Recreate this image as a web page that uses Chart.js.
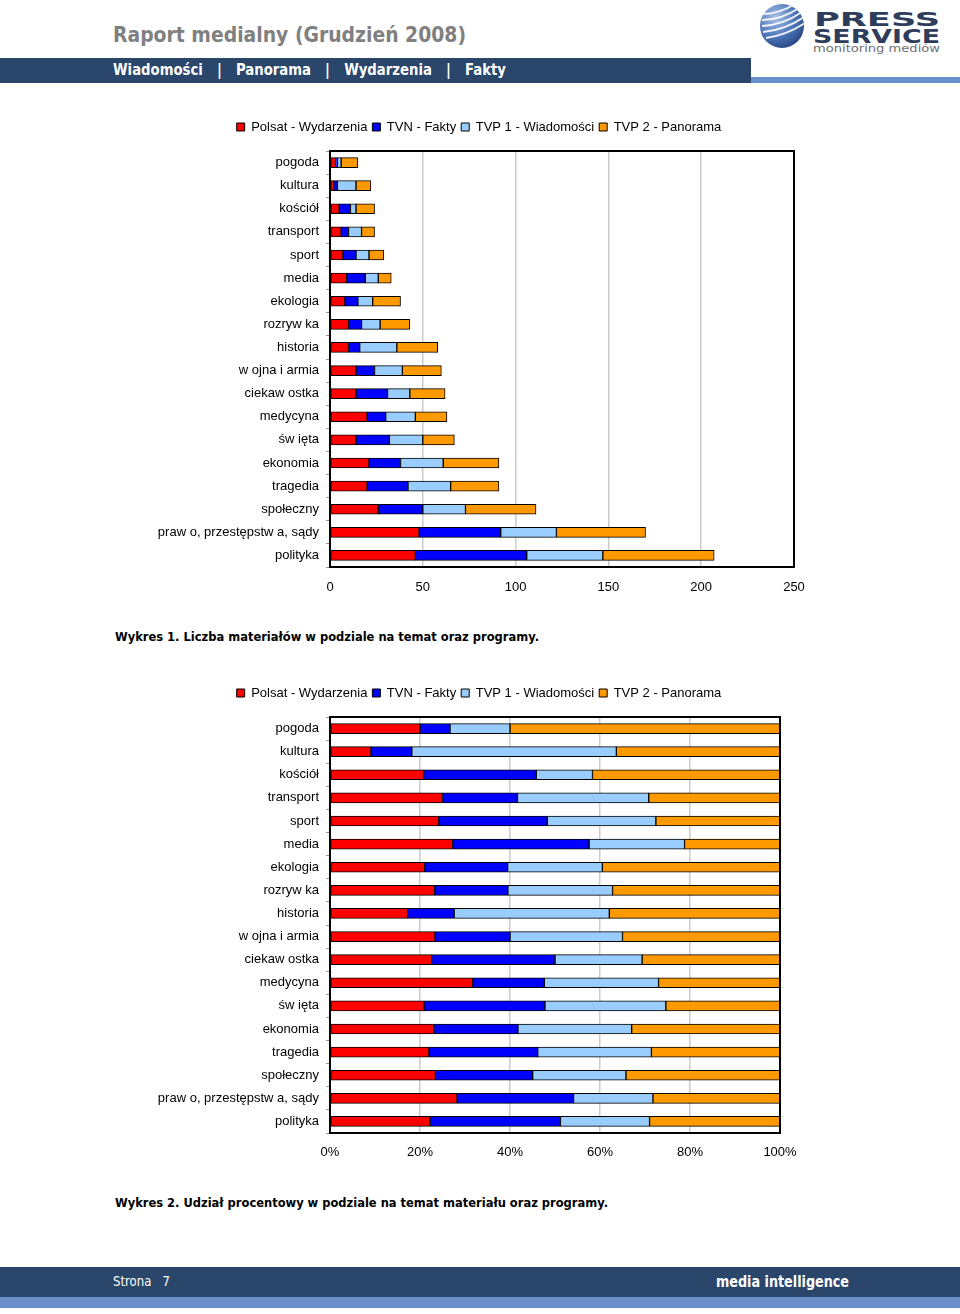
<!DOCTYPE html>
<html><head><meta charset="utf-8">
<script src="https://cdn.jsdelivr.net/npm/chart.js@4.4.0/dist/chart.umd.min.js"></script>
<style>
body{margin:0;width:960px;height:1314px;position:relative;background:#fff;overflow:hidden;font-family:"DejaVu Sans",sans-serif}
.t{position:absolute;white-space:nowrap;transform-origin:0 50%}
.band{position:absolute}
canvas{position:absolute}
</style></head><body>
<div class="band" style="left:0;top:58px;width:751px;height:25px;background:#2a466b"></div>
<div class="band" style="left:751px;top:77px;width:209px;height:6px;background:#6b90c9"></div>
<div class="t fit" data-w="353" style="left:113px;top:25px;font-size:21px;line-height:21px;font-weight:bold;color:#808080;font-stretch:condensed">Raport medialny (Grudzień 2008)</div>
<div class="t fit" data-w="393" style="left:113px;top:61.5px;font-size:16px;line-height:16px;font-weight:bold;color:#fff;word-spacing:3px">Wiadomości &nbsp;| &nbsp;Panorama &nbsp;| &nbsp;Wydarzenia &nbsp;| &nbsp;Fakty</div>

<svg style="position:absolute;left:755px;top:0" width="60" height="56" viewBox="0 0 60 56">
<defs>
<radialGradient id="g" cx="0.35" cy="0.3" r="0.8">
<stop offset="0" stop-color="#a9c0e6"/><stop offset="0.55" stop-color="#4f77bb"/><stop offset="1" stop-color="#233f78"/>
</radialGradient>
<clipPath id="c"><circle cx="27" cy="26" r="22"/></clipPath>
</defs>
<circle cx="27" cy="26" r="22" fill="url(#g)"/>
<g clip-path="url(#c)" stroke="#fff" stroke-width="2" fill="none" opacity="0.9">
<path d="M8 14 Q24 14 40 4"/><path d="M7 20 Q26 20 44 8"/><path d="M7 26 Q28 25 47 12"/><path d="M8 32 Q30 30 49 17"/><path d="M11 38 Q32 35 50 23"/>
</g>
</svg>
<div class="t fit" data-w="126" style="left:814px;top:9px;font-size:20px;line-height:20px;font-weight:bold;color:#2f3d5c">PRESS</div>
<div class="t fit" data-w="127" style="left:813px;top:26px;font-size:20px;line-height:20px;font-weight:bold;color:#2f3d5c">SERVICE</div>
<div class="t fit" data-w="127" style="left:813px;top:43.5px;font-size:10px;line-height:10px;color:#707070">monitoring mediów</div>

<canvas id="c1" width="740" height="497" style="left:100px;top:100px"></canvas>
<div class="t fit" data-w="424" style="left:115px;top:630px;font-size:13px;line-height:13px;font-weight:bold;color:#000">Wykres 1. Liczba materiałów w podziale na temat oraz programy.</div>
<canvas id="c2" width="740" height="497" style="left:100px;top:666px"></canvas>
<div class="t fit" data-w="493" style="left:115px;top:1196px;font-size:13px;line-height:13px;font-weight:bold;color:#000">Wykres 2. Udział procentowy w podziale na temat materiału oraz programy.</div>

<div class="band" style="left:0;top:1267px;width:960px;height:30px;background:#2a466b"></div>
<div class="band" style="left:0;top:1297px;width:960px;height:11px;background:#6b90c9"></div>
<div class="t fit" data-w="57" style="left:113px;top:1274px;font-size:14px;line-height:14px;color:#fff">Strona &nbsp; 7</div>
<div class="t fit" data-w="133" style="left:716px;top:1273.5px;font-size:16px;line-height:16px;font-weight:bold;color:#fff">media intelligence</div>

<script>
const categories = ['pogoda','kultura','kościół','transport','sport','media','ekologia','rozryw ka','historia','w ojna i armia','ciekaw ostka','medycyna','św ięta','ekonomia','tragedia','społeczny','praw o, przestępstw a, sądy','polityka'];
const seriesNames = ['Polsat - Wydarzenia','TVN - Fakty','TVP 1 - Wiadomości','TVP 2 - Panorama'];
const polsat = [3,2,5,6,7,9,8,10,10,14,14,20,14,21,20,26,48,46];
const tvn    = [1,2,6,4,7,10,7,7,6,10,17,10,18,17,22,24,44,60];
const tvp1   = [2,10,3,7,7,7,8,10,20,15,12,16,18,23,23,23,30,41];
const tvp2   = [9,8,10,7,8,7,15,16,22,21,19,17,17,30,26,38,48,60];
const countTicks = [0,50,100,150,200,250];
const pctTicks = [0,20,40,60,80,100];
const colors = ['#ff0000','#0000ff','#99ccff','#ff9900'];

const series = [polsat, tvn, tvp1, tvp2];
const totals = categories.map((_, i) => series.reduce((s, a) => s + a[i], 0));
const pctSeries = series.map(a => a.map((v, i) => v / totals[i] * 100));

const FONT = {family: '"Liberation Sans", Arial, sans-serif', size: 13};

const frame = {
  id: 'frame',
  afterDatasetsDraw(chart) {
    const {ctx, chartArea: a} = chart;
    ctx.save();
    ctx.strokeStyle = '#000';
    ctx.lineWidth = 2;
    ctx.strokeRect(a.left, a.top, a.right - a.left, a.bottom - a.top);
    ctx.restore();
  }
};

function build(id, data, ticks, fmt, rightGap, tickPad) {
  return new Chart(document.getElementById(id), {
    type: 'bar',
    data: {
      labels: categories,
      datasets: data.map((d, k) => ({
        label: seriesNames[k], data: d, xAxisID: 'x', yAxisID: 'y',
        backgroundColor: colors[k], borderColor: '#000', borderWidth: 1,
        borderSkipped: false, barThickness: 10
      }))
    },
    options: {
      indexAxis: 'y', responsive: false, animation: false,
      layout: {padding: {left: 50, right: 32, top: 15.5, bottom: 0}},
      plugins: {
        legend: {position: 'top', labels: {font: FONT, color: '#000', boxWidth: 8, boxHeight: 8, padding: 5}},
        tooltip: {enabled: false}
      },
      scales: {
        x: {
          stacked: true, min: ticks[0], max: ticks[ticks.length - 1],
          afterBuildTicks: s => { s.ticks = ticks.map(v => ({value: v})); },
          afterFit: s => { s.height = 30; },
          grid: {color: '#cccccc', lineWidth: 1.5, drawTicks: false},
          border: {display: false},
          ticks: {font: FONT, color: '#000', padding: tickPad, callback: fmt}
        },
        y: {
          stacked: true,
          afterFit: s => { s.width = 180; },
          grid: {drawOnChartArea: false, drawTicks: true, tickLength: 4, color: '#999'},
          border: {display: false},
          ticks: {font: FONT, color: '#000', padding: 7, autoSkip: false}
        },
        xTop: {
          type: 'linear', axis: 'x', position: 'top', display: true,
          grid: {display: false}, ticks: {display: false}, border: {display: false},
          afterFit: s => { s.height = 7.5; }
        },
        yRight: {
          type: 'linear', axis: 'y', position: 'right', display: true,
          grid: {display: false}, ticks: {display: false}, border: {display: false},
          afterFit: s => { s.width = rightGap; }
        }
      }
    },
    plugins: [frame]
  });
}

function fitAll() {
  document.querySelectorAll('.fit').forEach(el => {
    el.style.transform = '';
    const w = el.getBoundingClientRect().width;
    el.style.transform = 'scaleX(' + (parseFloat(el.dataset.w) / w) + ')';
  });
}

(document.fonts ? document.fonts.ready : Promise.resolve()).then(() => {
  fitAll();
  build('c1', series, countTicks, v => String(v), 14, 13);
  build('c2', pctSeries, pctTicks, v => v + '%', 28, 12);
});
</script>
</body></html>
